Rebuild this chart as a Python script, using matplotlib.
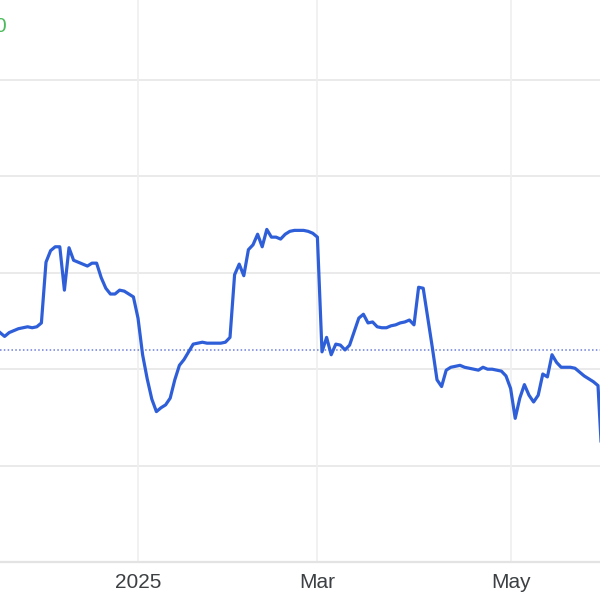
import numpy as np
import pandas as pd
import matplotlib
matplotlib.use("Agg")
import matplotlib.pyplot as plt

# Trading days (US market holidays skipped)
holidays = ['2024-11-28', '2024-12-25', '2025-01-01', '2025-01-09',
            '2025-01-20', '2025-02-17', '2025-04-18', '2025-05-26']
dates = pd.bdate_range(start='2024-11-18', periods=132, freq='C', holidays=holidays)

# Price (gridline units), one value per trading day
prices = [
    2.38, 2.34, 2.38, 2.40, 2.42, 2.43, 2.44, 2.43, 2.44, 2.48,
    3.11, 3.23, 3.27, 3.27, 2.82, 3.26, 3.13, 3.11, 3.09, 3.07,
    3.10, 3.10, 2.95, 2.84, 2.78, 2.78, 2.82, 2.81, 2.78, 2.75,
    2.53, 2.15, 1.90, 1.69, 1.56, 1.60, 1.63, 1.70, 1.89, 2.04,
    2.10, 2.18, 2.26, 2.27, 2.28, 2.27, 2.27, 2.27, 2.27, 2.28,
    2.33, 2.98, 3.09, 2.97, 3.24, 3.29, 3.40, 3.27, 3.45, 3.37,
    3.37, 3.35, 3.40, 3.43, 3.44, 3.44, 3.44, 3.43, 3.41, 3.37,
    2.18, 2.33, 2.15, 2.26, 2.25, 2.20, 2.25, 2.39, 2.53, 2.57,
    2.48, 2.49, 2.44, 2.43, 2.43, 2.45, 2.46, 2.48, 2.49, 2.51,
    2.46, 2.85, 2.84, 2.53, 2.22, 1.89, 1.82, 1.99, 2.02, 2.03,
    2.04, 2.02, 2.01, 2.00, 1.99, 2.02, 2.00, 2.00, 1.99, 1.98,
    1.93, 1.80, 1.49, 1.70, 1.84, 1.73, 1.66, 1.73, 1.95, 1.92,
    2.15, 2.07, 2.02, 2.02, 2.02, 2.01, 1.97, 1.93, 1.90, 1.87,
    1.83, 0.95,
]
prev_close = 2.20
grid_levels = [1, 2, 3, 4, 5]

tick_months = ['2025-01', '2025-03', '2025-05']
tick_labels = ['2025', 'Mar', 'May']

x = np.arange(len(dates))
month_keys = dates.strftime('%Y-%m')
tick_pos = [int(np.argmax(month_keys == m)) for m in tick_months]

fig = plt.figure(figsize=(6, 6), dpi=100)
ax = fig.add_axes([0, 38 / 600, 1, 562 / 600])

for lv in grid_levels:
    ax.axhline(lv, color='#e6e6e6', lw=1.2, zorder=0)
for p in tick_pos:
    ax.axvline(p, color='#efefef', lw=1.2, zorder=0)

ax.axhline(prev_close, color='#6d7fd6', lw=1.1, ls=(0, (1, 1.5)), zorder=1)
ax.plot(x, prices, color='#2f5fd8', lw=2.3, solid_joinstyle='round', zorder=2)

ax.set_xlim(0, 600 / 4.6)
ax.set_ylim(0, 562 / 96.4)

ax.set_xticks(tick_pos)
ax.set_xticklabels(tick_labels, fontsize=15, color='#3c4043', family='Liberation Sans')
ax.tick_params(axis='x', length=0, pad=8)
ax.set_yticks([])
for s in ['top', 'left', 'right']:
    ax.spines[s].set_visible(False)
ax.spines['bottom'].set_color('#e3e3e3')
ax.spines['bottom'].set_linewidth(1.6)

fig.text(6 / 600, 1 - 27 / 600, '0', ha='right', va='center', fontsize=15,
         color='#4cbb5c', family='Liberation Sans')

fig.savefig('out.png', dpi=100)
